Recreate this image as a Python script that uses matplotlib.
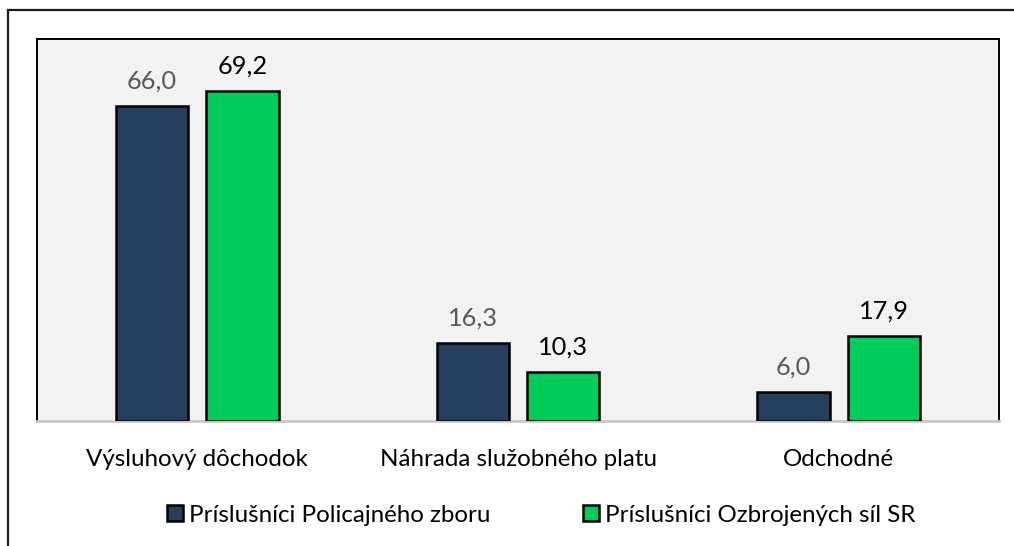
import matplotlib
matplotlib.use("Agg")
import matplotlib.pyplot as plt
from matplotlib import font_manager
from matplotlib.patches import Rectangle
import numpy as np

categories = ["Výsluhový dôchodok", "Náhrada služobného platu", "Odchodné"]
series_names = ["Príslušníci Policajného zboru", "Príslušníci Ozbrojených síl SR"]
police = [66.0, 16.3, 6.0]
army = [69.2, 10.3, 17.9]

names = {f.name for f in font_manager.fontManager.ttflist}
fam = "Liberation Sans Narrow" if "Liberation Sans Narrow" in names else "Lato"
plt.rcParams["font.family"] = [fam, "DejaVu Sans"]
FS = 17.4 if fam == "Lato" else 20.5
FSV = 18.3 if fam == "Lato" else 20.5

W, H = 1014, 546
fig = plt.figure(figsize=(W / 100, H / 100), dpi=100)
ax = fig.add_axes([37 / W, 1 - 421 / H, (999 - 37) / W, (421 - 39) / H])
ax.set_facecolor("#F2F2F2")

x = np.arange(len(categories))
bw = 0.225
off = 0.141
c_police = "#263F5F"
c_army = "#00CC5A"
b1 = ax.bar(x - off, police, bw, color=c_police, edgecolor="black", linewidth=1.8,
            label=series_names[0], zorder=3)
b2 = ax.bar(x + off, army, bw, color=c_army, edgecolor="black", linewidth=1.8,
            label=series_names[1], zorder=3)

for bars, vals, col in ((b1, police, "#595959"), (b2, army, "#000000")):
    for r, v in zip(bars, vals):
        ax.annotate(f"{v:.1f}".replace(".", ","), (r.get_x() + r.get_width() / 2, r.get_height()),
                    xytext=(0, 12.5), textcoords="offset points", ha="center", va="baseline",
                    fontsize=FSV, color=col)

ax.set_xlim(-0.5, 2.5)
ax.set_ylim(0, 80)
ax.set_yticks([])
ax.set_xticks(x)
ax.set_xticklabels(categories, fontsize=FS, color="#000000")
ax.tick_params(axis="x", length=0, pad=32.5)
for t in ax.get_xticklabels():
    t.set_verticalalignment("baseline")

for s in ("left", "top", "right"):
    ax.spines[s].set_color("black")
    ax.spines[s].set_linewidth(1.4)
ax.spines["bottom"].set_color("#C8C8C8")
ax.spines["bottom"].set_linewidth(2.0)

leg = fig.legend(loc="center", bbox_to_anchor=(541 / W, 1 - 515 / H), ncol=2, frameon=False,
                 fontsize=FS, handlelength=0.66, handleheight=0.66, handletextpad=0.25,
                 columnspacing=3.85, borderaxespad=0)
for h in leg.legend_handles:
    h.set_linewidth(1.8)
    h.set_edgecolor("black")

fig.patches.append(Rectangle((8 / W, -0.1), 1.2, 1 - 10 / H + 0.1, transform=fig.transFigure,
                             fill=False, edgecolor="#1A1A1A", linewidth=1.6))

fig.savefig("out.png", dpi=100)
